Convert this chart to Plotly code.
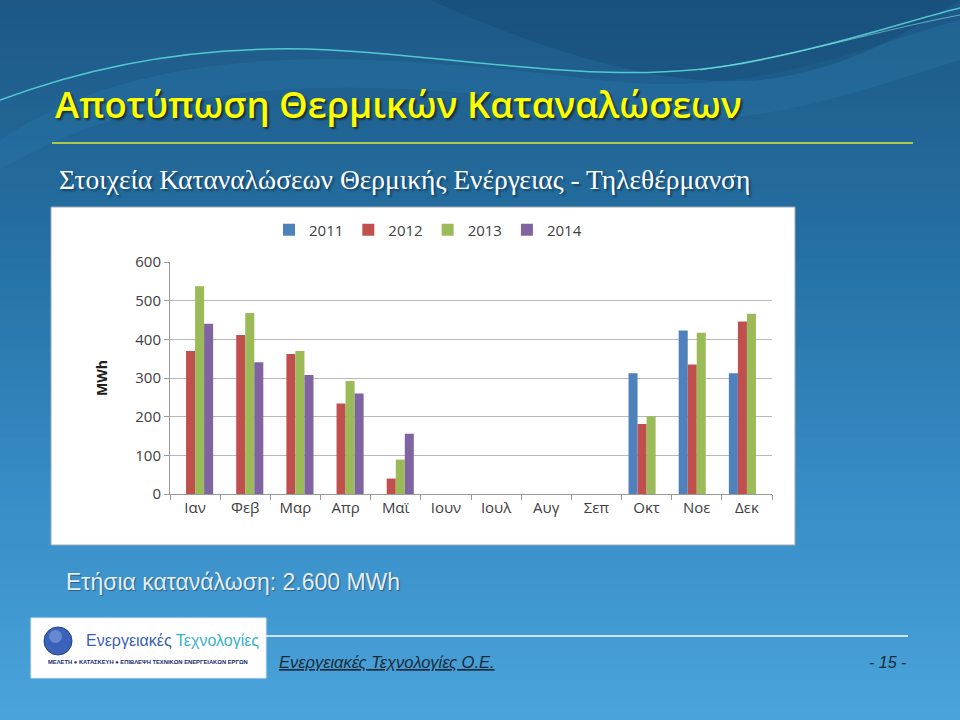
import plotly.graph_objects as go

months = ["Ιαν", "Φεβ", "Μαρ", "Απρ", "Μαϊ", "Ιουν", "Ιουλ", "Αυγ", "Σεπ", "Οκτ", "Νοε", "Δεκ"]
y2011 = [None, None, None, None, None, None, None, None, None, 312, 423, 312]
y2012 = [370, 411, 362, 234, 40, None, None, None, None, 181, 335, 446]
y2013 = [537, 468, 370, 292, 89, None, None, None, None, 201, 417, 466]
y2014 = [440, 341, 308, 260, 156, None, None, None, None, None, None, None]
series_names = ["2011", "2012", "2013", "2014"]
series_colors = ["#4F81BD", "#C0504D", "#9BBB59", "#8064A2"]
yticks = [0, 100, 200, 300, 400, 500, 600]

W, H = 960, 720
fig = go.Figure()
for name, vals, col in zip(series_names, [y2011, y2012, y2013, y2014], series_colors):
    fig.add_trace(go.Bar(name=name, x=months, y=vals, marker=dict(color=col, line=dict(width=0)),
                         hoverinfo="skip"))

shapes = []
def lerp(c1, c2, t):
    return "#%02x%02x%02x" % tuple(int(round(a + (b - a) * t)) for a, b in zip(c1, c2))
stops = [(0.0, (29, 88, 134)), (0.35, (37, 112, 163)), (0.7, (56, 142, 199)), (1.0, (74, 163, 218))]
N = 72
for i in range(N):
    t = (i + 0.5) / N
    for k in range(len(stops) - 1):
        if stops[k][0] <= t <= stops[k + 1][0]:
            tt = (t - stops[k][0]) / (stops[k + 1][0] - stops[k][0])
            col = lerp(stops[k][1], stops[k + 1][1], tt)
            break
    y0 = 1 - (i + 1) / N
    y1 = 1 - i / N + 0.002
    if i == N - 1:
        y0 = -0.05
    if i == 0:
        y1 = 1.05
    shapes.append(dict(type="rect", xref="paper", yref="paper", x0=-0.05, x1=1.05,
                       y0=y0, y1=y1, fillcolor=col, line=dict(width=0), layer="below"))

def px(x, y):
    return x / W, 1 - y / H

def path_px(pts):
    s = ""
    for cmd, coords in pts:
        s += cmd + " " + " ".join("%.4f,%.4f" % px(x, y) for x, y in coords) + " "
    return s

shapes.append(dict(type="path", xref="paper", yref="paper", layer="below",
                   path=path_px([("M", [(0, 140)]), ("C", [(150, 40), (350, 50), (600, 80)]),
                                 ("C", [(760, 100), (880, 40), (960, 20)]), ("L", [(960, 60)]),
                                 ("C", [(860, 90), (740, 140), (600, 110)]),
                                 ("C", [(350, 70), (150, 80), (0, 170)]), ("Z", [])]),
                   fillcolor="rgba(40,120,170,0.35)", line=dict(width=0)))
shapes.append(dict(type="path", xref="paper", yref="paper", layer="below",
                   path=path_px([("M", [(430, 0)]), ("C", [(520, 40), (650, 90), (760, 80)]),
                                 ("C", [(850, 70), (910, 30), (960, 0)]), ("Z", [])]),
                   fillcolor="rgba(20,70,110,0.35)", line=dict(width=0)))
shapes.append(dict(type="path", xref="paper", yref="paper", layer="below",
                   path=path_px([("M", [(0, 100)]), ("C", [(120, 55), (230, 45), (330, 50)]),
                                 ("C", [(480, 58), (620, 90), (760, 60)]),
                                 ("C", [(850, 42), (910, 20), (960, 8)])]),
                   line=dict(color="rgba(90,220,220,0.85)", width=1.5)))
shapes.append(dict(type="path", xref="paper", yref="paper", layer="below",
                   path=path_px([("M", [(700, 70)]), ("C", [(800, 55), (880, 30), (960, 15)])]),
                   line=dict(color="rgba(140,230,230,0.6)", width=1)))

shapes.append(dict(type="line", xref="paper", yref="paper", x0=52 / W, x1=913 / W,
                   y0=1 - 143 / H, y1=1 - 143 / H, line=dict(color="#A9C74A", width=2), layer="below"))
shapes.append(dict(type="rect", xref="paper", yref="paper", x0=51 / W, x1=795 / W,
                   y0=1 - 545 / H, y1=1 - 207 / H, fillcolor="white",
                   line=dict(color="#9aa8b4", width=1), layer="below"))
shapes.append(dict(type="line", xref="paper", yref="paper", x0=265 / W, x1=908 / W,
                   y0=1 - 636 / H, y1=1 - 636 / H, line=dict(color="#cfe6f5", width=2), layer="below"))
shapes.append(dict(type="rect", xref="paper", yref="paper", x0=31 / W, x1=266 / W,
                   y0=1 - 678 / H, y1=1 - 618 / H, fillcolor="white",
                   line=dict(color="#e0e8ee", width=1), layer="below"))
# logo arrows (drawn before sphere)
shapes.append(dict(type="path", xref="paper", yref="paper", layer="below",
                   path=path_px([("M", [(58, 619)]), ("L", [(63, 634), (53, 634)]), ("Z", [])]),
                   fillcolor="#1a1a1a", line=dict(width=0)))
shapes.append(dict(type="path", xref="paper", yref="paper", layer="below",
                   path=path_px([("M", [(33, 641)]), ("L", [(46, 636), (46, 646)]), ("Z", [])]),
                   fillcolor="#1a1a1a", line=dict(width=0)))
shapes.append(dict(type="path", xref="paper", yref="paper", layer="below",
                   path=path_px([("M", [(84, 641)]), ("L", [(70, 636), (70, 646)]), ("Z", [])]),
                   fillcolor="#1a1a1a", line=dict(width=0)))
shapes.append(dict(type="circle", xref="paper", yref="paper", x0=44 / W, x1=72 / W,
                   y0=1 - 655 / H, y1=1 - 627 / H, fillcolor="#3a62b8",
                   line=dict(color="#24408a", width=1), layer="below"))
shapes.append(dict(type="circle", xref="paper", yref="paper", x0=49 / W, x1=62 / W,
                   y0=1 - 643 / H, y1=1 - 630 / H, fillcolor="rgba(140,170,230,0.55)",
                   line=dict(width=0), layer="below"))

annotations = []
def ann(text, x, y, size, color, family, xanchor="left", yanchor="middle", weight="normal", shadow="none", **kw):
    annotations.append(dict(text=text, x=x / W, y=1 - y / H, xref="paper", yref="paper",
                            showarrow=False, xanchor=xanchor, yanchor=yanchor,
                            font=dict(size=size, color=color, family=family, weight=weight, shadow=shadow), **kw))

ann("Αποτύπωση Θερμικών Καταναλώσεων", 53, 104, 36.5, "#FFFF00", "Open Sans", weight=600,
    shadow="2px 2px 2px rgba(20,30,20,0.75)")
ann("Στοιχεία Καταναλώσεων Θερμικής Ενέργειας - Τηλεθέρμανση", 57, 179, 27.5, "white",
    "Liberation Serif", shadow="2px 2px 2px rgba(10,40,70,0.6)")
ann("Ετήσια κατανάλωση: 2.600 MWh", 64, 582, 23, "#e6eef5", "Liberation Sans",
    shadow="1px 1px 1px rgba(10,40,70,0.5)")
ann("<i><u>Ενεργειακές Τεχνολογίες Ο.Ε.</u></i>", 277, 662, 16.5, "#1b2a3a", "Liberation Sans")
ann("<i>- 15 -</i>", 908, 662, 16, "#1b2a3a", "Liberation Sans", xanchor="right")
ann("Ενεργειακές <span style='color:#3bb0c9'>Τεχνολογίες</span>", 84, 640, 16, "#3a5fb0", "Liberation Sans")
ann("<b>ΜΕΛΕΤΗ ● ΚΑΤΑΣΚΕΥΗ ● ΕΠΙΒΛΕΨΗ ΤΕΧΝΙΚΩΝ ΕΝΕΡΓΕΙΑΚΩΝ ΕΡΓΩΝ</b>", 148, 662, 5.8, "#1a2a6a",
    "Liberation Sans", xanchor="center")

fig.update_layout(
    width=W, height=H, autosize=False, margin=dict(l=0, r=0, t=0, b=0, pad=0),
    paper_bgcolor="#3a8fc8", plot_bgcolor="rgba(0,0,0,0)",
    barmode="group", bargap=0.28, bargroupgap=0,
    shapes=shapes, annotations=annotations,
    showlegend=True, hovermode=False,
    legend=dict(orientation="h", x=428 / W, y=1 - 230 / H, xanchor="center", yanchor="middle",
                font=dict(size=15, color="#404040", family="Open Sans"), bgcolor="rgba(0,0,0,0)",
                itemwidth=30, tracegroupgap=0),
    font=dict(family="Open Sans", color="#404040"),
    xaxis=dict(domain=[170 / W, 772 / W], showgrid=False, showline=True, linecolor="#9a9a9a",
               ticks="outside", tickson="boundaries", ticklen=5, tickcolor="#9a9a9a",
               tickfont=dict(size=15, color="#404040"), fixedrange=True, automargin=False),
    yaxis=dict(domain=[1 - 494 / H, 1 - 262 / H], range=[0, 600], tickvals=yticks,
               showgrid=True, gridcolor="#b8b8b8", gridwidth=1, showline=True, linecolor="#9a9a9a",
               ticks="outside", ticklen=5, tickcolor="#9a9a9a", zeroline=False, automargin=False,
               tickfont=dict(size=15, color="#404040"), fixedrange=True,
               title=dict(text="<b>MWh</b>", font=dict(size=14, color="#202020"), standoff=24)),
)

fig.write_html("out.html", config={"displayModeBar": False, "responsive": False, "staticPlot": True},
               post_script="document.body.style.margin='0';document.body.style.padding='0';document.body.style.overflow='hidden';")
